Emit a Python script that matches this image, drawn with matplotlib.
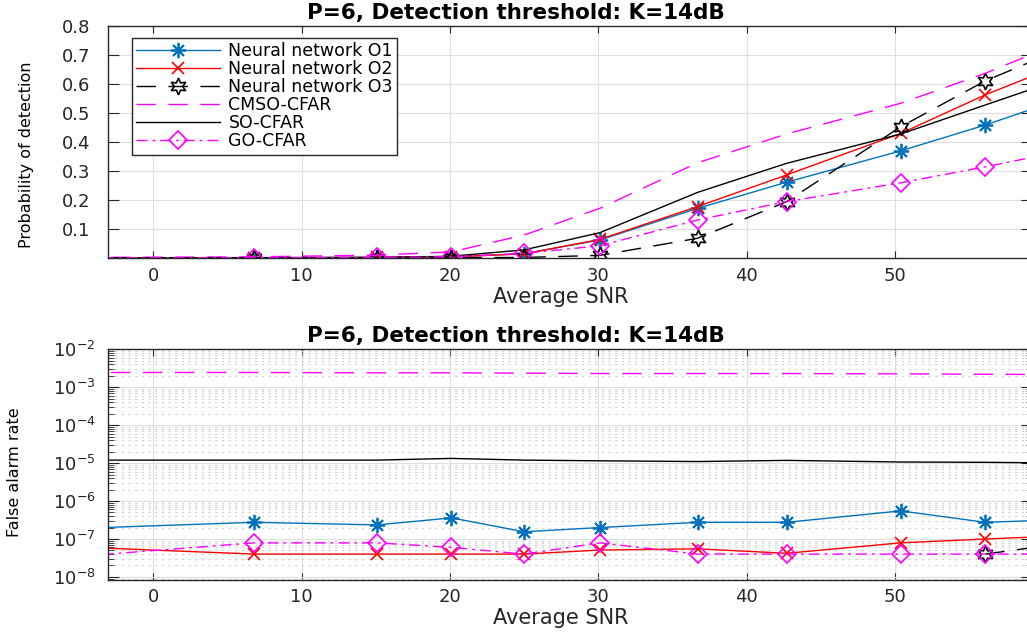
import numpy as np
import matplotlib
matplotlib.use("Agg")
import matplotlib.pyplot as plt
from matplotlib.ticker import LogLocator, NullFormatter

plt.rcParams.update({
    "font.family": "DejaVu Sans",
    "axes.edgecolor": "#262626",
    "xtick.color": "#262626",
    "ytick.color": "#262626",
    "axes.linewidth": 1.0,
})

# Average SNR of each simulated point (first and last lie just outside the view)
snr = [-5.0, 6.8, 15.1, 20.1, 25.0, 30.1, 36.7, 42.7, 50.4, 56.1, 62.0]

# Probability of detection
pd_o1 = [0.002, 0.002, 0.003, 0.005, 0.016, 0.063, 0.172, 0.262, 0.370, 0.459, 0.562]
pd_o2 = [0.002, 0.002, 0.003, 0.005, 0.015, 0.065, 0.178, 0.287, 0.430, 0.563, 0.683]
pd_o3 = [0.001, 0.001, 0.001, 0.002, 0.003, 0.010, 0.069, 0.195, 0.453, 0.611, 0.737]
pd_cmso = [0.003, 0.005, 0.011, 0.022, 0.080, 0.172, 0.329, 0.428, 0.534, 0.637, 0.761]
pd_so = [0.002, 0.002, 0.003, 0.007, 0.029, 0.088, 0.227, 0.327, 0.428, 0.528, 0.631]
pd_go = [0.002, 0.002, 0.003, 0.005, 0.017, 0.043, 0.132, 0.195, 0.260, 0.315, 0.376]

# False alarm rate (nan = zero, not shown on log axis)
fa_o1 = [1.9e-7, 2.75e-7, 2.35e-7, 3.6e-7, 1.55e-7, 2.0e-7, 2.75e-7, 2.75e-7, 5.5e-7, 2.75e-7, 3.3e-7]
fa_o2 = [6.1e-8, 4.0e-8, 4.0e-8, 4.0e-8, 4.0e-8, 5.1e-8, 5.5e-8, 4.2e-8, 7.9e-8, 1.0e-7, 1.24e-7]
fa_o3 = [np.nan] * 9 + [4.0e-8, 8.3e-8]
fa_cmso = [2.45e-3, 2.45e-3, 2.4e-3, 2.4e-3, 2.35e-3, 2.3e-3, 2.3e-3, 2.3e-3, 2.25e-3, 2.2e-3, 2.15e-3]
fa_so = [1.2e-5, 1.2e-5, 1.2e-5, 1.33e-5, 1.2e-5, 1.15e-5, 1.1e-5, 1.18e-5, 1.07e-5, 1.05e-5, 1.0e-5]
fa_go = [3.5e-8, 7.9e-8, 7.9e-8, 6.0e-8, 4.0e-8, 7.9e-8, 4.0e-8, 4.0e-8, 4.0e-8, 4.0e-8, 4.0e-8]

labels = ["Neural network O1", "Neural network O2", "Neural network O3",
          "CMSO-CFAR", "SO-CFAR", "GO-CFAR"]
title = "P=6, Detection threshold: K=14dB"

BLUE = "#0072BD"
DASH = (0, (14, 9))
DASHDOT = (0, (8, 3.5, 2, 3.5))
HEXAGRAM = (6, 1, 0)
ASTERISK = (8, 2, 0)
NARROW = ["Liberation Sans Narrow", "DejaVu Sans Condensed", "DejaVu Sans"]


def draw_series(ax, series):
    o1, o2, o3, cmso, so, go = series
    ax.plot(snr, o1, color=BLUE, lw=1.0, marker=ASTERISK, ms=11, mew=1.3, label=labels[0])
    ax.plot(snr, o2, color="red", lw=1.0, marker="x", ms=9, mew=1.2, label=labels[1])
    ax.plot(snr, o3, color="black", lw=1.0, linestyle=DASH, marker=HEXAGRAM, ms=12,
            mfc="none", mew=1.2, label=labels[2])
    ax.plot(snr, cmso, color="magenta", lw=1.0, linestyle=DASH, label=labels[3])
    ax.plot(snr, so, color="black", lw=1.0, label=labels[4])
    ax.plot(snr, go, color="magenta", lw=1.0, linestyle=DASHDOT, marker="D", ms=9,
            mfc="none", mew=1.2, label=labels[5])


def style_axes(ax, ypad):
    ax.set_xlim(-3.03, 59.25)
    ax.set_xticks([0, 10, 20, 30, 40, 50])
    ax.tick_params(which="both", direction="in", top=True, right=True, labelsize=13)
    ax.tick_params(axis="x", length=5, pad=6)
    ax.tick_params(axis="y", which="major", length=8, pad=ypad)
    ax.tick_params(axis="y", which="minor", length=4.5)
    ax.grid(True, which="major", color="#DFDFDF", lw=0.8)
    ax.set_axisbelow(True)
    ax.set_xlabel("Average SNR", fontsize=15, color="#262626")
    ax.xaxis.set_label_coords(0.49, -0.122)
    ax.set_title(title, fontsize=15.5, fontweight="bold", pad=5, x=0.441)


fig = plt.figure(figsize=(10.27, 6.32), dpi=100)
ax1 = fig.add_axes([0.1055, 0.5913, 0.8994, 0.3676])
ax2 = fig.add_axes([0.1055, 0.0823, 0.8994, 0.365])

# Top: probability of detection
draw_series(ax1, [pd_o1, pd_o2, pd_o3, pd_cmso, pd_so, pd_go])
style_axes(ax1, 13)
ax1.set_ylim(0, 0.8)
ax1.set_yticks([0.1, 0.2, 0.3, 0.4, 0.5, 0.6, 0.7, 0.8])
ax1.set_ylabel("Probability of detection", fontsize=11.5, family=NARROW)
ax1.yaxis.set_label_coords(-0.0804, 0.447)
leg = ax1.legend(loc="upper left", bbox_to_anchor=(0.0257, 0.948), borderaxespad=0,
                 fontsize=12.5, handlelength=4.8, labelspacing=0.0, fancybox=False,
                 framealpha=1, edgecolor="#262626", borderpad=0.25, handletextpad=0.5)
leg.get_frame().set_linewidth(1.0)

# Bottom: false alarm rate
draw_series(ax2, [fa_o1, fa_o2, fa_o3, fa_cmso, fa_so, fa_go])
ax2.set_yscale("log")
style_axes(ax2, 9)
ax2.set_ylim(8.3e-9, 1e-2)
ax2.set_yticks([1e-8, 1e-7, 1e-6, 1e-5, 1e-4, 1e-3, 1e-2])
ax2.yaxis.set_minor_locator(LogLocator(base=10, subs=np.arange(2, 10), numticks=20))
ax2.yaxis.set_minor_formatter(NullFormatter())
ax2.grid(True, which="minor", axis="y", color="#D2D2D2", linestyle=(0, (2, 4)), lw=0.8)
ax2.set_ylabel("False alarm rate", fontsize=11.5, family=NARROW)
ax2.yaxis.set_label_coords(-0.0938, 0.468)

fig.savefig("out.png", dpi=100)
